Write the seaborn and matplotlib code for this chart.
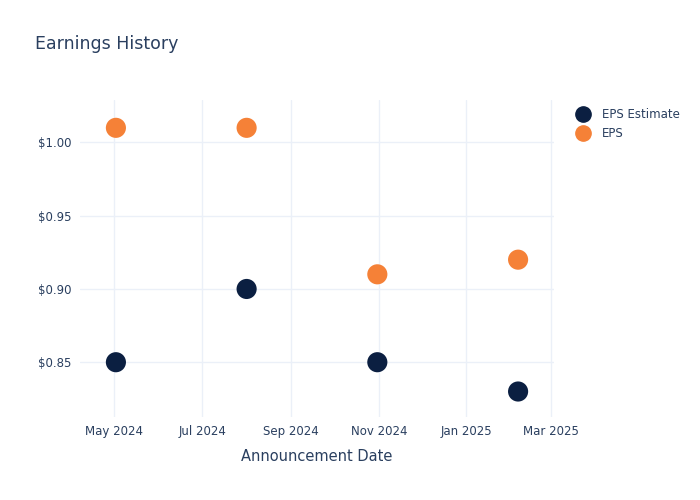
import pandas as pd
import matplotlib
matplotlib.use("Agg")
import matplotlib.pyplot as plt
import matplotlib.dates as mdates
from matplotlib.ticker import FuncFormatter
from matplotlib.lines import Line2D
import seaborn as sns

# Earnings data
dates = ["2024-05-02", "2024-08-01", "2024-10-31", "2025-02-06"]
eps_estimate = [0.85, 0.90, 0.85, 0.83]
eps_actual = [1.01, 1.01, 0.91, 0.92]

df = pd.DataFrame({
    "date": pd.to_datetime(dates * 2),
    "value": eps_estimate + eps_actual,
    "series": ["EPS Estimate"] * 4 + ["EPS"] * 4,
})

sns.set_theme(style="white")
plt.rcParams["font.family"] = ["DejaVu Sans"]
text_color = "#2a3f5f"
grid_color = "#ebf0f8"
colors = {"EPS Estimate": "#0b1f41", "EPS": "#f58137"}

fig = plt.figure(figsize=(7, 5), dpi=100)
ax = fig.add_axes([80 / 700, 1 - 417 / 500, 474 / 700, 317 / 500])

sns.scatterplot(data=df, x="date", y="value", hue="series", palette=colors,
                s=210, edgecolor="none", ax=ax, legend=False, zorder=3)

ax.set_xlim(pd.Timestamp("2024-04-07"), pd.Timestamp("2025-03-03"))
ax.set_ylim(0.8126, 1.029)
ax.xaxis.set_major_locator(mdates.MonthLocator(bymonth=[1, 3, 5, 7, 9, 11]))
ax.xaxis.set_major_formatter(mdates.DateFormatter("%b %Y"))
ax.set_yticks([0.85, 0.90, 0.95, 1.00])
ax.yaxis.set_major_formatter(FuncFormatter(lambda v, p: f"${v:.2f}"))

ax.grid(True, color=grid_color, linewidth=1)
for sp in ax.spines.values():
    sp.set_visible(False)
ax.tick_params(axis="both", length=0, labelsize=8.5, colors=text_color, pad=6)

ax.set_xlabel("Announcement Date", fontsize=10.5, color=text_color, labelpad=8)
ax.set_ylabel("")

fig.text(35 / 700, 1 - 44 / 500, "Earnings History", fontsize=12.5,
         color=text_color, va="center", ha="left")

# legend on the right
handles = [Line2D([], [], marker="o", linestyle="", markersize=11, color=colors[k])
           for k in ["EPS Estimate", "EPS"]]
leg = fig.legend(handles, ["EPS Estimate", "EPS"], loc="upper left",
                 bbox_to_anchor=(574 / 700, 1 - 108 / 500), frameon=False,
                 fontsize=8.5, handletextpad=0.9, labelspacing=0.55,
                 borderaxespad=0, borderpad=0, handlelength=1.5)
for t in leg.get_texts():
    t.set_color(text_color)

fig.savefig("out.png", dpi=100)
